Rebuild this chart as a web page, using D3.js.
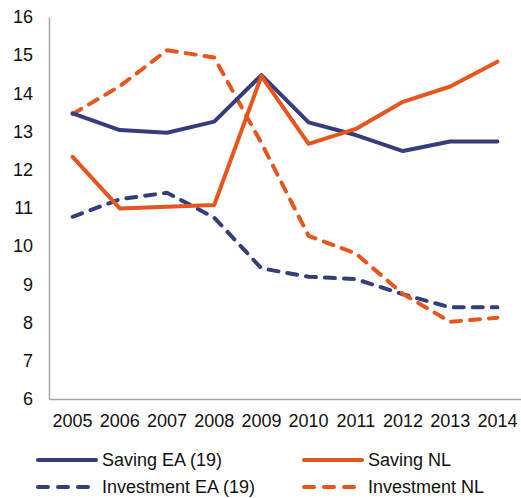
<!DOCTYPE html>
<html>
<head>
<meta charset="utf-8">
<script src="https://cdn.jsdelivr.net/npm/d3@7"></script>
<style>
body { margin: 0; background: #fff; }
text { font-family: "Liberation Sans", Arial, sans-serif; fill: #111; }
.domain { stroke: #a6a6a6; stroke-width: 1.5px; }
</style>
</head>
<body>
<svg width="521" height="498"></svg>
<script>

var years = ["2005","2006","2007","2008","2009","2010","2011","2012","2013","2014"];
var savingEA =     [13.48, 13.04, 12.97, 13.26, 14.48, 13.24, 12.91, 12.49, 12.74, 12.74];
var savingNL =     [12.34, 10.99, 11.03, 11.08, 14.45, 12.68, 13.07, 13.78, 14.18, 14.83];
var investmentEA = [10.77, 11.23, 11.40, 10.75, 9.42, 9.20, 9.14, 8.74, 8.40, 8.40];
var investmentNL = [13.46, 14.19, 15.13, 14.94, 12.70, 10.27, 9.81, 8.75, 8.02, 8.13];
var yTicks = [6, 7, 8, 9, 10, 11, 12, 13, 14, 15, 16];

var navy = "#343e7a", orange = "#e8551c";

var series = [
  {name: "Saving EA (19)", values: savingEA, color: navy, dash: null},
  {name: "Saving NL", values: savingNL, color: orange, dash: null},
  {name: "Investment EA (19)", values: investmentEA, color: navy, dash: "10,9"},
  {name: "Investment NL", values: investmentNL, color: orange, dash: "10,9"}
];

var svg = d3.select("svg");

var x = d3.scaleBand().domain(years).range([49, 521]);
var y = d3.scaleLinear().domain([6, 16]).range([399, 17]);

// y axis
var yAxis = svg.append("g")
    .attr("transform", "translate(49,0)")
    .call(d3.axisLeft(y).tickValues(yTicks).tickSize(0).tickPadding(16));
yAxis.selectAll("text").style("font-size", "18px");

// x axis
var xAxis = svg.append("g")
    .attr("transform", "translate(0,399)")
    .call(d3.axisBottom(x).tickSize(0).tickPadding(15));
xAxis.selectAll("text").style("font-size", "18px");

var line = d3.line()
    .x(function(d, i) { return x(years[i]) + x.bandwidth() / 2; })
    .y(function(d) { return y(d); });

// dashed first so the solid ones sit on top
[2, 3, 0, 1].forEach(function(k) {
  var s = series[k];
  svg.append("path")
      .datum(s.values)
      .attr("d", line)
      .attr("fill", "none")
      .attr("stroke", s.color)
      .attr("stroke-width", 4)
      .attr("stroke-linecap", "round")
      .attr("stroke-linejoin", "round")
      .attr("stroke-dasharray", s.dash);
});

// legend
var legendPos = [[36, 460], [302, 460], [36, 487], [302, 487]];
series.forEach(function(s, i) {
  var g = svg.append("g").attr("transform", "translate(" + legendPos[i][0] + "," + legendPos[i][1] + ")");
  g.append("line")
      .attr("x1", 2).attr("x2", s.dash ? 52 : 60)
      .attr("stroke", s.color)
      .attr("stroke-width", 4)
      .attr("stroke-linecap", "round")
      .attr("stroke-dasharray", s.dash ? "10,10" : null);
  g.append("text")
      .attr("x", 66).attr("dy", "0.35em")
      .style("font-size", "18px")
      .text(s.name);
});

</script>
</body>
</html>
